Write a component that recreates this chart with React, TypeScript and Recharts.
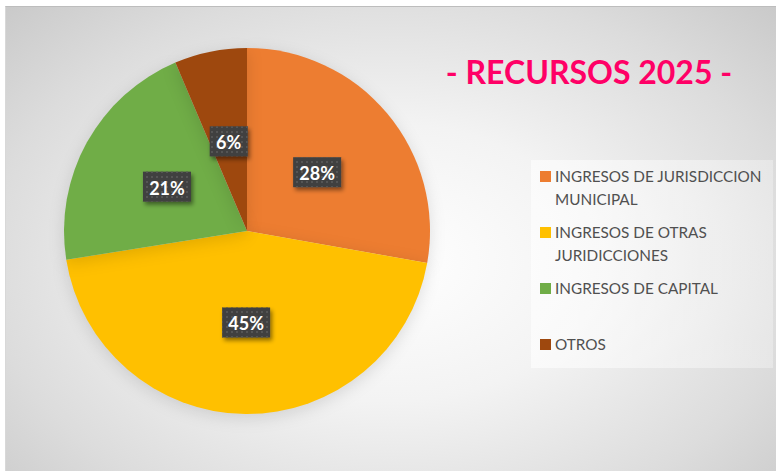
import { PieChart, Pie, Cell, Legend } from 'recharts';

const categories = [
  'INGRESOS DE JURISDICCION MUNICIPAL',
  'INGRESOS DE OTRAS JURIDICCIONES',
  'INGRESOS DE CAPITAL',
  'OTROS',
];
// shares (labels round them)
const shares = [27.8, 44.7, 21.1, 6.4];
const colors = ['#ED7D31', '#FFC000', '#70AD47', '#9E480E'];
const title = '- RECURSOS 2025 -';

const data = categories.map((name, i) => ({ name, value: shares[i] }));

const RAD = Math.PI / 180;
const FONT = 'Lato, "Open Sans", sans-serif';

const renderLabel = (props: any) => {
  const { cx, cy, midAngle, outerRadius, percent } = props;
  const r = outerRadius * 0.5;
  const x = cx + r * Math.cos(-midAngle * RAD);
  const y = cy + r * Math.sin(-midAngle * RAD);
  const text = `${Math.round(percent * 100)}%`;
  const w = text.length > 2 ? 48 : 38;
  const h = 30;
  return (
    <g>
      <rect x={x - w / 2} y={y - h / 2} width={w} height={h} fill="#404040" filter="url(#lblShadow)" />
      <rect x={x - w / 2} y={y - h / 2} width={w} height={h} fill="url(#dots)" />
      <text
        x={x}
        y={y + 1}
        fill="#fff"
        textAnchor="middle"
        dominantBaseline="central"
        fontFamily={FONT}
        fontWeight={700}
        fontSize={18}
      >
        {text}
      </text>
    </g>
  );
};

const renderLegend = () => (
  <div style={{ fontFamily: FONT, fontSize: 15.3, color: '#505050', lineHeight: '23px' }}>
    {categories.map((name, i) => (
      <div key={name} style={{ display: 'flex', height: 56, alignItems: 'flex-start' }}>
        <div
          style={{
            width: 11,
            height: 11,
            background: colors[i],
            marginTop: 6,
            marginRight: 4,
            flexShrink: 0,
          }}
        />
        <div style={{ width: 218 }}>{name}</div>
      </div>
    ))}
  </div>
);

export default function App() {
  return (
    <div
      style={{
        position: 'absolute',
        left: 0,
        top: 0,
        width: 776,
        height: 471,
        background: '#fff',
        overflow: 'hidden',
      }}
    >
      <style>{`.recharts-pie-sector { filter: drop-shadow(0px 4px 8px rgba(0,0,0,0.12)); }`}</style>
      <div
        style={{
          position: 'absolute',
          left: 5,
          top: 6,
          width: 771,
          height: 465,
          borderTop: '1px solid #bdbdbd',
          borderLeft: '1px solid #d8d8d8',
          background:
            'radial-gradient(ellipse 75% 85% at 50% 55%, #ffffff 0%, #f3f3f3 35%, #dcdcdc 70%, #c4c4c4 100%)',
        }}
      />
      <div
        style={{
          position: 'absolute',
          left: 531,
          top: 160,
          width: 242,
          height: 208,
          background: 'linear-gradient(90deg, rgba(255,255,255,0.6), rgba(255,255,255,0.3))',
        }}
      />
      <div
        style={{
          position: 'absolute',
          left: 430,
          top: 52,
          width: 318,
          textAlign: 'center',
          fontFamily: FONT,
          fontWeight: 700,
          fontSize: 32,
          color: '#FF0066',
        }}
      >
        {title}
      </div>
      <div style={{ position: 'absolute', left: 0, top: 0 }}>
        <PieChart width={776} height={471} margin={{ top: 0, right: 0, bottom: 0, left: 0 }}>
          <defs>
            <pattern id="dots" width="5" height="5" patternUnits="userSpaceOnUse">
              <rect x="1" y="1" width="2" height="2" fill="#555" />
            </pattern>
            <filter id="lblShadow" x="-30%" y="-30%" width="170%" height="190%">
              <feDropShadow dx="2" dy="3" stdDeviation="2" floodColor="#000" floodOpacity="0.45" />
            </filter>
          </defs>
          <Pie
            data={data}
            dataKey="value"
            nameKey="name"
            cx={247}
            cy={231}
            outerRadius={183}
            startAngle={90}
            endAngle={-270}
            stroke="none"
            labelLine={false}
            label={renderLabel}
            isAnimationActive={false}
          >
            {data.map((d, i) => (
              <Cell key={d.name} fill={colors[i]} />
            ))}
          </Pie>
          <Legend
            layout="vertical"
            align="right"
            verticalAlign="top"
            content={renderLegend}
            wrapperStyle={{ left: 540, top: 165, width: 236 }}
          />
        </PieChart>
      </div>
    </div>
  );
}
